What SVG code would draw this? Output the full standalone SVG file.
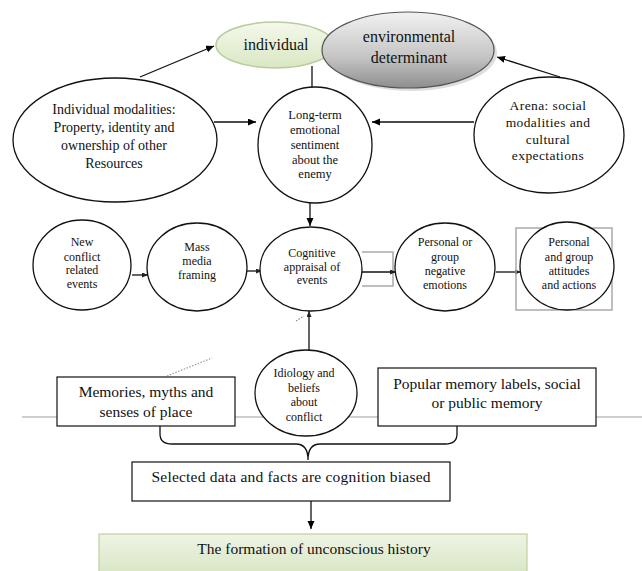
<svg xmlns="http://www.w3.org/2000/svg" width="642" height="571" viewBox="0 0 642 571" font-family="'Liberation Serif', 'DejaVu Serif', serif">
<defs>
  <linearGradient id="gInd" x1="0" y1="0" x2="0" y2="1">
    <stop offset="0" stop-color="#f4f8ec"/>
    <stop offset="1" stop-color="#d9e7c2"/>
  </linearGradient>
  <linearGradient id="gEnv" x1="0" y1="0" x2="0" y2="1">
    <stop offset="0" stop-color="#f2f2f2"/>
    <stop offset="0.6" stop-color="#c4c4c4"/>
    <stop offset="1" stop-color="#8e8e8e"/>
  </linearGradient>
  <linearGradient id="gForm" x1="0" y1="0" x2="0" y2="1">
    <stop offset="0" stop-color="#eef4e4"/>
    <stop offset="1" stop-color="#d8e6c4"/>
  </linearGradient>
  <marker id="arr" markerWidth="9" markerHeight="8" refX="8" refY="3.5" orient="auto" markerUnits="userSpaceOnUse">
    <path d="M0,0 L8,3.5 L0,7 z" fill="#000"/>
  </marker>
  <marker id="arrS" markerWidth="7" markerHeight="6" refX="6" refY="2.5" orient="auto" markerUnits="userSpaceOnUse">
    <path d="M0,0 L6,2.5 L0,5 z" fill="#222"/>
  </marker>
</defs>
<style>
  .node { fill: #fff; stroke: #111; stroke-width: 1.3; }
  .box { fill: #fff; stroke: #111; stroke-width: 1.2; }
  text { font-family: "Liberation Serif", "DejaVu Serif", serif; }
  .t { fill: #111; text-anchor: middle; }
  .s12 { font-size: 12px; }
  .s125 { font-size: 12.5px; }
  .s13 { font-size: 13.5px; }
  .s14 { font-size: 14px; }
  .s15 { font-size: 15.5px; }
  .s16 { font-size: 16px; }
  .conn { stroke: #111; stroke-width: 1.3; fill: none; }
  .gray { stroke: #a9a9a9; stroke-width: 1.5; fill: none; }
</style>

<!-- background rule line -->
<line x1="22" y1="417" x2="642" y2="417" stroke="#cfcfcf" stroke-width="2.2"/>

<g id="connectors">
  <line class="conn" x1="140" y1="77" x2="214" y2="46" marker-end="url(#arr)"/>
  <line class="conn" x1="560" y1="77" x2="497" y2="57" marker-end="url(#arr)"/>
  <line class="conn" x1="312" y1="66" x2="312" y2="88"/>
  <line class="conn" x1="214" y1="122" x2="256" y2="122" marker-end="url(#arr)"/>
  <line class="conn" x1="474" y1="122" x2="372" y2="122" marker-end="url(#arr)"/>
  <line class="conn" x1="310" y1="203" x2="310" y2="226" marker-end="url(#arr)"/>
  <line class="conn" x1="132" y1="275" x2="148" y2="275" marker-end="url(#arrS)"/>
  <line class="conn" x1="247" y1="271" x2="262" y2="271" marker-end="url(#arrS)"/>
  <path class="gray" d="M362,252 H393 V286 H362"/>
  <line class="conn" x1="362" y1="272" x2="396" y2="272" marker-end="url(#arrS)"/>
  <line class="conn" x1="496" y1="272" x2="521" y2="272" marker-end="url(#arrS)"/>
  <line class="conn" x1="309" y1="350" x2="309" y2="311" marker-end="url(#arrS)"/>
  <line x1="296" y1="321" x2="304" y2="316" stroke="#888" stroke-width="1.2" stroke-dasharray="1.5,1.5"/>
  <line x1="167" y1="376" x2="212" y2="358" stroke="#999" stroke-width="1.2" stroke-dasharray="1.5,1.5"/>
  <path class="conn" d="M160,426 V434 Q160,444 172,444 H296 Q308,444 308,460 Q308,444 320,444 H445 Q457,444 457,434 V426"/>
  <line class="conn" x1="311" y1="501" x2="311" y2="529" marker-end="url(#arr)"/>
</g>

<g id="individual">
  <ellipse cx="275" cy="45" rx="59" ry="23" fill="url(#gInd)" stroke="#b9cc9c" stroke-width="1.5"/>
  <text class="t s16" x="276" y="50">individual</text>
</g>

<g id="environmental">
  <ellipse cx="411" cy="53" rx="86" ry="38" fill="#bdbdbd" opacity="0.5"/>
  <ellipse cx="408" cy="50" rx="86" ry="38" fill="url(#gEnv)" stroke="#555" stroke-width="1.2"/>
  <text class="t s16" x="409" y="42">environmental</text>
  <text class="t s16" x="409" y="63">determinant</text>
</g>

<g id="individual-modalities">
  <ellipse class="node" cx="115" cy="140" rx="102" ry="62"/>
  <text class="t s14" x="114" y="113.5">Individual modalities:</text>
  <text class="t s14" x="114" y="131.5">Property, identity and</text>
  <text class="t s14" x="114" y="149.5">ownership of other</text>
  <text class="t s14" x="114" y="167.5">Resources</text>
</g>

<g id="long-term">
  <ellipse class="node" cx="315" cy="145" rx="57" ry="58"/>
  <text class="t s125" x="315" y="119">Long-term</text>
  <text class="t s125" x="315" y="134">emotional</text>
  <text class="t s125" x="315" y="149">sentiment</text>
  <text class="t s125" x="315" y="164">about the</text>
  <text class="t s125" x="315" y="178">enemy</text>
</g>

<g id="arena">
  <ellipse class="node" cx="549" cy="135" rx="75" ry="58"/>
  <text class="t s13" x="548" y="109.5" letter-spacing="0.4">Arena: social</text>
  <text class="t s13" x="548" y="126.5" letter-spacing="0.4">modalities and</text>
  <text class="t s13" x="548" y="143.5" letter-spacing="0.4">cultural</text>
  <text class="t s13" x="548" y="159.5" letter-spacing="0.4">expectations</text>
</g>

<g id="new-conflict">
  <ellipse class="node" cx="82" cy="265" rx="49" ry="45"/>
  <text class="t s12" x="82" y="246">New</text>
  <text class="t s12" x="82" y="261">conflict</text>
  <text class="t s12" x="82" y="274">related</text>
  <text class="t s12" x="82" y="288">events</text>
</g>

<g id="mass-media">
  <ellipse class="node" cx="197" cy="267" rx="50" ry="44"/>
  <text class="t s12" x="197" y="251">Mass</text>
  <text class="t s12" x="197" y="265">media</text>
  <text class="t s12" x="197" y="279">framing</text>
</g>

<g id="cognitive">
  <ellipse class="node" cx="311" cy="269" rx="51" ry="42"/>
  <text class="t s12" x="312" y="257">Cognitive</text>
  <text class="t s12" x="312" y="271">appraisal of</text>
  <text class="t s12" x="312" y="284">events</text>
</g>

<g id="personal-negative">
  <ellipse class="node" cx="445" cy="267" rx="50" ry="44"/>
  <text class="t s12" x="445" y="246">Personal or</text>
  <text class="t s12" x="445" y="261">group</text>
  <text class="t s12" x="445" y="275">negative</text>
  <text class="t s12" x="445" y="289">emotions</text>
</g>

<g id="personal-attitudes">
  <rect x="516" y="228" width="96" height="82" fill="none" stroke="#a9a9a9" stroke-width="1.5"/>
  <ellipse class="node" cx="567" cy="266" rx="47" ry="44"/>
  <text class="t s12" x="569" y="246">Personal</text>
  <text class="t s12" x="569" y="261">and group</text>
  <text class="t s12" x="569" y="275">attitudes</text>
  <text class="t s12" x="569" y="289">and actions</text>
</g>

<g id="memories">
  <rect class="box" x="57" y="377" width="178" height="49"/>
  <text class="t s15" x="146" y="397">Memories, myths and</text>
  <text class="t s15" x="146" y="417">senses of place</text>
</g>

<g id="idiology">
  <ellipse class="node" cx="306" cy="393" rx="51" ry="43"/>
  <text class="t s12" x="304" y="377">Idiology and</text>
  <text class="t s12" x="304" y="392">beliefs</text>
  <text class="t s12" x="304" y="406">about</text>
  <text class="t s12" x="304" y="421">conflict</text>
</g>

<g id="popular">
  <rect class="box" x="378" y="368" width="218" height="58"/>
  <text class="t s15" x="487" y="389">Popular memory labels, social</text>
  <text class="t s15" x="487" y="408">or public memory</text>
</g>

<g id="selected">
  <rect class="box" x="132" y="462" width="318" height="39"/>
  <text class="t s15" x="291" y="482" textLength="279" lengthAdjust="spacing">Selected data and facts are cognition biased</text>
</g>

<g id="formation">
  <rect x="99" y="534" width="428" height="40" fill="url(#gForm)" stroke="#c2d4a2" stroke-width="1.3"/>
  <text class="t s15" x="314" y="554">The formation of unconscious history</text>
</g>
</svg>
